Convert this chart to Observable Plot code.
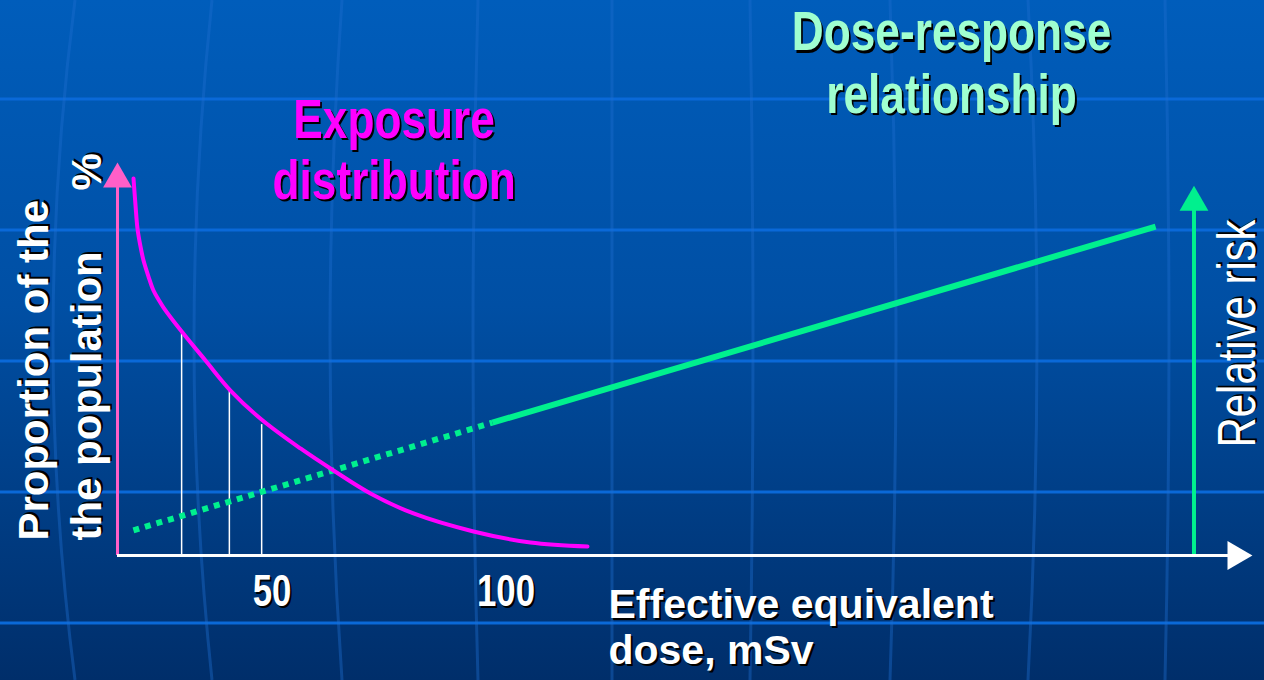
<!DOCTYPE html>
<html><head><meta charset="utf-8">
<script src="https://cdn.jsdelivr.net/npm/d3@7"></script>
<script src="https://cdn.jsdelivr.net/npm/@observablehq/plot@0.6"></script>
<style>
html,body{margin:0;padding:0;width:1264px;height:680px;overflow:hidden;}
body{background:linear-gradient(to bottom,#005DBB 0%,#004FA4 45%,#002E6A 100%);position:relative;}
#bg{position:absolute;left:0;top:0;}
#chart{position:absolute;left:0;top:0;}
#chart svg text{text-shadow:2px 2px 0 #000;}
</style></head><body>
<svg id="bg" width="1264" height="680"></svg>
<div id="chart"></div>
<script>
// ---- data ----
// exposure distribution curve (dose, proportion %)
const exposureDose  = [20.42, 20.85, 21.27, 21.91, 22.56, 23.62, 24.69, 25.76, 26.83, 30.89, 35.80, 41.14, 47.77, 56.10, 63.15, 71.05, 80.24, 93.06, 105.24, 117.42];
const exposureShare = [95.93, 89.06, 83.21, 78.63, 75.06, 70.99, 67.43, 65.14, 63.10, 56.74, 49.62, 41.98, 34.61, 27.23, 21.63, 15.78, 10.69, 6.11, 3.31, 2.29];
// slices under the exposure curve
const sliceDose  = [30.7, 40.9, 47.8];
const sliceShare = [57.0, 42.0, 33.3];
// dose-response relationship: [extrapolated start, start of observed, end]
const responseDose = [20.4, 97.1, 238.8];
const responseRisk = [6.4, 33.8, 83.7];
// axes
const doseOrigin = 17, doseAxisEnd = 259.5, riskAxisDose = 247;
const shareAxisTop = 100, riskAxisTop = 94.1;
// tick labels
const tickValues = [50, 100];
const tickLabels = ["50", "100"];
// texts
const exposureTitle = "Exposure\ndistribution";
const responseTitle = "Dose-response\nrelationship";
const xTitle = "Effective equivalent\ndose, mSv";
const yTitle = "Proportion of the\nthe population";
const yUnit = "%";
const riskTitle = "Relative risk";

// ---- decorative slide background ----
const bg = d3.select("#bg");
for (let yy = 99; yy < 680; yy += 131) {
  bg.append("line").attr("x1", 0).attr("x2", 1264).attr("y1", yy).attr("y2", yy)
    .attr("stroke", "#0A69D8").attr("stroke-width", 3);
}
const meridians = [[75,-22],[212,-18],[342,-12],[478,-5],[612,0],[750,3],[890,6],[1028,9],[1165,4]];
for (const [mx, b] of meridians) {
  bg.append("path").attr("d", `M${mx},0 Q${mx + 2*b},340 ${mx},680`)
    .attr("fill", "none").attr("stroke", "#1E6FD0").attr("stroke-opacity", 0.4).attr("stroke-width", 3);
}

// ---- chart ----
const narrow = "'Liberation Sans Narrow','Liberation Sans',Arial,sans-serif";
const sans = "'Liberation Sans',Arial,sans-serif";
const pink = "#FF5FC8", magenta = "#FF00FF", green = "#00F08E", pale = "#A0FFD0";

const curve = exposureDose.map((d, i) => ({dose: d, share: exposureShare[i]}));
const slices = sliceDose.map((d, i) => ({dose: d, share: sliceShare[i]}));
const resp = responseDose.map((d, i) => ({dose: d, risk: responseRisk[i]}));

const chart = Plot.plot({
  width: 1264, height: 680,
  marginLeft: 117, marginRight: 12, marginTop: 162, marginBottom: 125,
  x: {domain: [doseOrigin, doseAxisEnd], axis: null},
  y: {domain: [0, shareAxisTop], axis: null},
  style: {background: "transparent", overflow: "visible"},
  marks: [
    // slices
    Plot.ruleX(slices, {x: "dose", y1: 0, y2: "share", stroke: "white", strokeWidth: 1.5}),
    // dose-response: dotted extrapolation + solid
    Plot.line(resp.slice(0, 2), {x: "dose", y: "risk", stroke: green, strokeWidth: 6, strokeDasharray: "6,6", strokeLinecap: "butt"}),
    Plot.line(resp.slice(1), {x: "dose", y: "risk", stroke: green, strokeWidth: 6, strokeLinecap: "butt"}),
    // exposure curve
    Plot.line(curve, {x: "dose", y: "share", stroke: magenta, strokeWidth: 4, curve: "catmull-rom"}),
    // y axis (pink)
    Plot.ruleX([doseOrigin], {y1: 0, y2: shareAxisTop - 6, stroke: pink, strokeWidth: 3}),
    Plot.dot([doseOrigin], {x: d => d, y: shareAxisTop, symbol: "triangle", r: 10.7, fill: pink, stroke: null, dy: 16.7}),
    // risk axis (green)
    Plot.ruleX([riskAxisDose], {y1: 0, y2: riskAxisTop - 6, stroke: green, strokeWidth: 4}),
    Plot.dot([riskAxisDose], {x: d => d, y: riskAxisTop, symbol: "triangle", r: 10.7, fill: green, stroke: null, dy: 16.7}),
    // x axis (white)
    Plot.ruleY([0], {x1: doseOrigin, x2: doseAxisEnd - 5, stroke: "white", strokeWidth: 3}),
    Plot.dot([doseAxisEnd], {x: d => d, y: 0, symbol: "triangle", r: 10.7, fill: "white", stroke: null, rotate: 90, dx: -16.7}),
    // tick labels
    Plot.text(tickValues, {x: d => d, y: -12.8, text: (d, i) => tickLabels[i], fill: "white", fontSize: 44, fontWeight: "bold", fontFamily: narrow, lineAnchor: "bottom"}),
    // titles
    Plot.text([exposureTitle], {x: 76.1, y: 90.8, text: d => d, fill: magenta, fontSize: 56, fontWeight: "bold", fontFamily: narrow, lineAnchor: "bottom", lineHeight: 1.09}),
    Plot.text([responseTitle], {x: 195.2, y: 112.7, text: d => d, fill: pale, fontSize: 56, fontWeight: "bold", fontFamily: narrow, lineAnchor: "bottom", lineHeight: 1.11}),
    Plot.text([xTitle], {x: 121.9, y: -27.5, text: d => d, fill: "white", fontSize: 41, fontWeight: "bold", fontFamily: sans, textAnchor: "start", lineAnchor: "bottom", lineHeight: 1.1}),
    Plot.text([yTitle], {x: 13.4, y: 3.8, text: d => d, fill: "white", fontSize: 42, fontWeight: "bold", fontFamily: sans, textAnchor: "start", lineAnchor: "bottom", lineHeight: 1.26, rotate: -90}),
    Plot.text([yUnit], {x: 13.4, y: 92.9, text: d => d, fill: "white", fontSize: 42, fontWeight: "bold", fontFamily: sans, textAnchor: "start", lineAnchor: "bottom", rotate: -90}),
    Plot.text([riskTitle], {x: 260.0, y: 27.5, text: d => d, fill: "white", fontSize: 53, fontWeight: "normal", fontFamily: narrow, textAnchor: "start", lineAnchor: "bottom", rotate: -90})
  ]
});
// emulate a narrow face: compress the "narrow" texts horizontally along their baseline
d3.select(chart).selectAll("g").filter(function() {
  const f = this.getAttribute("font-family");
  return f && f.includes("Narrow");
}).selectAll("text").each(function() {
  const t = this.getAttribute("transform") || "";
  this.setAttribute("transform", (t + " scale(0.79,1)").trim());
});
document.getElementById("chart").append(chart);
</script>
</body></html>
